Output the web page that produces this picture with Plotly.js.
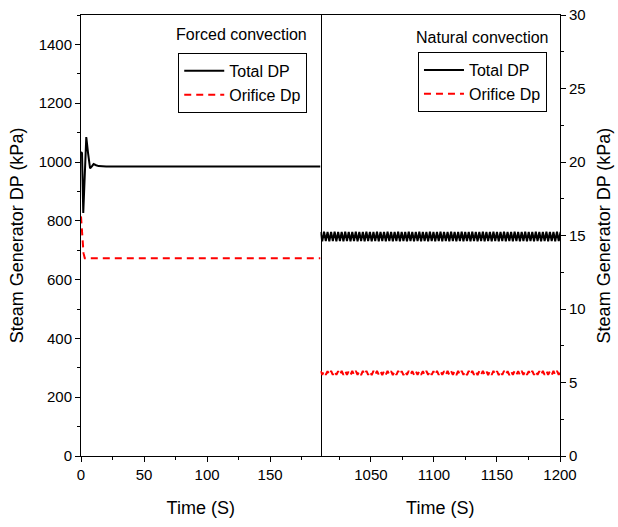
<!DOCTYPE html>
<html>
<head>
<meta charset="utf-8">
<script src="https://cdn.plot.ly/plotly-3.0.1.min.js"></script>
<style>html,body{margin:0;padding:0;background:#fff;}#chart{width:618px;height:527px;}</style>
</head>
<body>
<div id="chart"></div>
<script>
// Forced convection (left panel, kPa on left axis)
const forcedTime = [0, 0.8, 1.8, 2.8, 4.2, 5.6, 7.2, 8.6, 10, 12, 14, 20, 190];
const forcedTotal = [1034, 1030, 827, 960, 1085, 1030, 978, 985, 993, 989, 986, 985, 985];
const forcedOrificeTime = [0, 1, 2, 3, 190];
const forcedOrifice = [815, 760, 690, 673, 673];

// Natural convection (right panel, kPa on right axis)
const naturalTime = [1010, 1011.4, 1012.8, 1014.2, 1015.6, 1017, 1018.4, 1019.8, 1021.2, 1022.6, 1024, 1025.4, 1026.8, 1028.2, 1029.6, 1031, 1032.4, 1033.8, 1035.2, 1036.6, 1038, 1039.4, 1040.8, 1042.2, 1043.6, 1045, 1046.4, 1047.8, 1049.2, 1050.6, 1052, 1053.4, 1054.8, 1056.2, 1057.6, 1059, 1060.4, 1061.8, 1063.2, 1064.6, 1066, 1067.4, 1068.8, 1070.2, 1071.6, 1073, 1074.4, 1075.8, 1077.2, 1078.6, 1080, 1081.4, 1082.8, 1084.2, 1085.6, 1087, 1088.4, 1089.8, 1091.2, 1092.6, 1094, 1095.4, 1096.8, 1098.2, 1099.6, 1101, 1102.4, 1103.8, 1105.2, 1106.6, 1108, 1109.4, 1110.8, 1112.2, 1113.6, 1115, 1116.4, 1117.8, 1119.2, 1120.6, 1122, 1123.4, 1124.8, 1126.2, 1127.6, 1129, 1130.4, 1131.8, 1133.2, 1134.6, 1136, 1137.4, 1138.8, 1140.2, 1141.6, 1143, 1144.4, 1145.8, 1147.2, 1148.6, 1150, 1151.4, 1152.8, 1154.2, 1155.6, 1157, 1158.4, 1159.8, 1161.2, 1162.6, 1164, 1165.4, 1166.8, 1168.2, 1169.6, 1171, 1172.4, 1173.8, 1175.2, 1176.6, 1178, 1179.4, 1180.8, 1182.2, 1183.6, 1185, 1186.4, 1187.8, 1189.2, 1190.6, 1192, 1193.4, 1194.8, 1196.2, 1197.6, 1199, 1200.4];
const naturalTotal = [15.24, 14.61, 15.26, 14.63, 15.25, 14.60, 15.24, 14.62, 15.26, 14.61, 15.25, 14.63, 15.24, 14.60, 15.26, 14.62, 15.25, 14.61, 15.24, 14.63, 15.26, 14.60, 15.25, 14.62, 15.24, 14.61, 15.26, 14.63, 15.25, 14.60, 15.24, 14.62, 15.26, 14.61, 15.25, 14.63, 15.24, 14.60, 15.26, 14.62, 15.25, 14.61, 15.24, 14.63, 15.26, 14.60, 15.25, 14.62, 15.24, 14.61, 15.26, 14.63, 15.25, 14.60, 15.24, 14.62, 15.26, 14.61, 15.25, 14.63, 15.24, 14.60, 15.26, 14.62, 15.25, 14.61, 15.24, 14.63, 15.26, 14.60, 15.25, 14.62, 15.24, 14.61, 15.26, 14.63, 15.25, 14.60, 15.24, 14.62, 15.26, 14.61, 15.25, 14.63, 15.24, 14.60, 15.26, 14.62, 15.25, 14.61, 15.24, 14.63, 15.26, 14.60, 15.25, 14.62, 15.24, 14.61, 15.26, 14.63, 15.25, 14.60, 15.24, 14.62, 15.26, 14.61, 15.25, 14.63, 15.24, 14.60, 15.26, 14.62, 15.25, 14.61, 15.24, 14.63, 15.26, 14.60, 15.25, 14.62, 15.24, 14.61, 15.26, 14.63, 15.25, 14.60, 15.24, 14.62, 15.26, 14.61, 15.25, 14.63, 15.24, 14.60, 15.26, 14.62, 15.25];
const naturalOrifice = [5.78, 5.52, 5.79, 5.53, 5.77, 5.51, 5.78, 5.52, 5.79, 5.53, 5.77, 5.51, 5.78, 5.52, 5.79, 5.53, 5.77, 5.51, 5.78, 5.52, 5.79, 5.53, 5.77, 5.51, 5.78, 5.52, 5.79, 5.53, 5.77, 5.51, 5.78, 5.52, 5.79, 5.53, 5.77, 5.51, 5.78, 5.52, 5.79, 5.53, 5.77, 5.51, 5.78, 5.52, 5.79, 5.53, 5.77, 5.51, 5.78, 5.52, 5.79, 5.53, 5.77, 5.51, 5.78, 5.52, 5.79, 5.53, 5.77, 5.51, 5.78, 5.52, 5.79, 5.53, 5.77, 5.51, 5.78, 5.52, 5.79, 5.53, 5.77, 5.51, 5.78, 5.52, 5.79, 5.53, 5.77, 5.51, 5.78, 5.52, 5.79, 5.53, 5.77, 5.51, 5.78, 5.52, 5.79, 5.53, 5.77, 5.51, 5.78, 5.52, 5.79, 5.53, 5.77, 5.51, 5.78, 5.52, 5.79, 5.53, 5.77, 5.51, 5.78, 5.52, 5.79, 5.53, 5.77, 5.51, 5.78, 5.52, 5.79, 5.53, 5.77, 5.51, 5.78, 5.52, 5.79, 5.53, 5.77, 5.51, 5.78, 5.52, 5.79, 5.53, 5.77, 5.51, 5.78, 5.52, 5.79, 5.53, 5.77, 5.51, 5.78, 5.52, 5.79, 5.53, 5.77];

const seriesNames = ['Total DP', 'Orifice Dp'];
const panelTitles = ['Forced convection', 'Natural convection'];
const yTitle = 'Steam Generator DP (kPa)';
const xTitle = 'Time (S)';

const FONT = 'Liberation Sans, Arial, sans-serif';
const dashRed = '7px,5px';

const traces = [
  {x: forcedTime, y: forcedTotal, xaxis: 'x', yaxis: 'y', mode: 'lines', name: seriesNames[0],
   line: {color: '#000', width: 2}, legend: 'legend'},
  {x: forcedOrificeTime, y: forcedOrifice, xaxis: 'x', yaxis: 'y', mode: 'lines', name: seriesNames[1],
   line: {color: '#ff0000', width: 2, dash: dashRed}, legend: 'legend'},
  {x: naturalTime, y: naturalTotal, xaxis: 'x2', yaxis: 'y2', mode: 'lines', name: seriesNames[0],
   line: {color: '#000', width: 2}, legend: 'legend2'},
  {x: naturalTime, y: naturalOrifice, xaxis: 'x2', yaxis: 'y2', mode: 'lines', name: seriesNames[1],
   line: {color: '#ff0000', width: 2, dash: dashRed}, legend: 'legend2'}
];

const axBase = {
  showgrid: false, zeroline: false, showline: true, linecolor: '#000', linewidth: 1,
  ticks: 'outside', ticklen: 5, tickwidth: 1, tickcolor: '#000',
  tickfont: {family: FONT, size: 15, color: '#000'}
};

const legBase = {
  bgcolor: '#fff', bordercolor: '#000', borderwidth: 1,
  font: {family: FONT, size: 16, color: '#000'},
  xanchor: 'left', yanchor: 'top', itemwidth: 40, tracegroupgap: 0
};

const layout = {
  width: 618, height: 527,
  margin: {l: 81, r: 58, t: 15, b: 71, pad: 0},
  paper_bgcolor: '#fff', plot_bgcolor: '#fff',
  font: {family: FONT, color: '#000'},
  showlegend: true,
  xaxis: Object.assign({}, axBase, {
    domain: [0, 0.5], range: [0, 190], tick0: 0, dtick: 50, anchor: 'y', mirror: true,
    minor: {dtick: 25, ticks: 'outside', ticklen: 3, tickcolor: '#000'},
    title: {text: xTitle, font: {family: FONT, size: 18, color: '#000'}, standoff: 19}
  }),
  xaxis2: Object.assign({}, axBase, {
    domain: [0.5, 1], range: [1010, 1200], tick0: 1000, dtick: 50, anchor: 'y2', mirror: true,
    minor: {dtick: 25, ticks: 'outside', ticklen: 3, tickcolor: '#000'},
    title: {text: xTitle, font: {family: FONT, size: 18, color: '#000'}, standoff: 19}
  }),
  yaxis: Object.assign({}, axBase, {
    range: [0, 1500], tick0: 0, dtick: 200, anchor: 'x', side: 'left', mirror: true,
    minor: {dtick: 100, ticks: 'outside', ticklen: 3, tickcolor: '#000'},
    title: {text: yTitle, font: {family: FONT, size: 18, color: '#000'}, standoff: 10}
  }),
  yaxis2: Object.assign({}, axBase, {
    range: [0, 30], tick0: 0, dtick: 5, anchor: 'x2', side: 'right',
    minor: {dtick: 2.5, ticks: 'outside', ticklen: 3, tickcolor: '#000'},
    title: {text: yTitle, font: {family: FONT, size: 18, color: '#000'}, standoff: 12}
  }),
  legend: Object.assign({}, legBase, {x: 0.203, y: 0.914}),
  legend2: Object.assign({}, legBase, {x: 0.7035, y: 0.916}),
  annotations: [
    {text: panelTitles[0], xref: 'paper', yref: 'paper', x: 0.336, y: 0.955, showarrow: false,
     xanchor: 'center', yanchor: 'middle', font: {family: FONT, size: 16, color: '#000'}},
    {text: panelTitles[1], xref: 'paper', yref: 'paper', x: 0.839, y: 0.95, showarrow: false,
     xanchor: 'center', yanchor: 'middle', font: {family: FONT, size: 16, color: '#000'}}
  ]
};

Plotly.newPlot('chart', traces, layout, {displayModeBar: false, staticPlot: true});
</script>
</body>
</html>
